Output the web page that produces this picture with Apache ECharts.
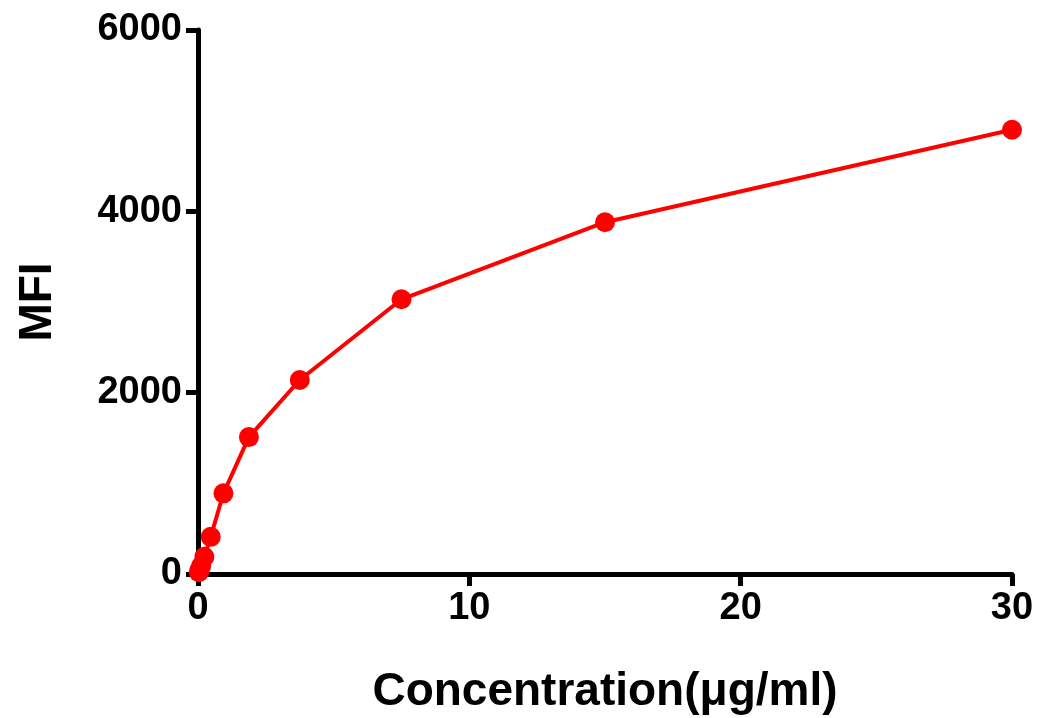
<!DOCTYPE html>
<html>
<head>
<meta charset="UTF-8">
<script src="https://cdn.jsdelivr.net/npm/echarts@6/dist/echarts.min.js"></script>
<style>html,body{margin:0;background:#fff}#c{width:1040px;height:718px}</style>
</head>
<body>
<div id="c"></div>
<script>
var conc = [0.0293, 0.0586, 0.117, 0.234, 0.469, 0.9375, 1.875, 3.75, 7.5, 15, 30];
var mfi = [20, 45, 90, 190, 410, 890, 1510, 2140, 3030, 3880, 4900];
var xTicks = [0, 10, 20, 30];
var yTicks = [0, 2000, 4000, 6000];

var font = 'Liberation Sans, Arial, sans-serif';
var chart = echarts.init(document.getElementById('c'));
chart.setOption({
    animation: false,
    grid: {left: 198, right: 28, top: 30, bottom: 144, containLabel: false, outerBoundsMode: 'none'},
    xAxis: {
        type: 'value', min: 0, max: 30, interval: 10,
        name: 'Concentration(μg/ml)', nameLocation: 'middle', nameGap: 95,
        nameTextStyle: {fontSize: 46, fontWeight: 'bold', color: '#000', fontFamily: font},
        axisLine: {lineStyle: {color: '#000', width: 5}},
        axisTick: {length: 12, lineStyle: {width: 5, color: '#000'}},
        axisLabel: {fontSize: 38, fontWeight: 'bold', color: '#000', fontFamily: font, margin: 16,
            formatter: function (v) { return xTicks.indexOf(v) >= 0 ? v : ''; }},
        splitLine: {show: false}
    },
    yAxis: {
        type: 'value', min: 0, max: 6000, interval: 2000,
        name: 'MFI', nameLocation: 'middle', nameGap: 137,
        nameTextStyle: {fontSize: 46, fontWeight: 'bold', color: '#000', fontFamily: font},
        axisLine: {show: true, lineStyle: {color: '#000', width: 5}},
        axisTick: {show: true, length: 12, lineStyle: {width: 5, color: '#000'}},
        axisLabel: {fontSize: 38, fontWeight: 'bold', color: '#000', fontFamily: font, margin: 16,
            formatter: function (v) { return yTicks.indexOf(v) >= 0 ? v : ''; }},
        splitLine: {show: false}
    },
    series: [{
        type: 'line',
        data: conc.map(function (c, i) { return [c, mfi[i]]; }),
        symbol: 'circle', symbolSize: 20,
        lineStyle: {color: '#ff0000', width: 4},
        itemStyle: {color: '#ff0000'}
    }]
});
</script>
</body>
</html>
